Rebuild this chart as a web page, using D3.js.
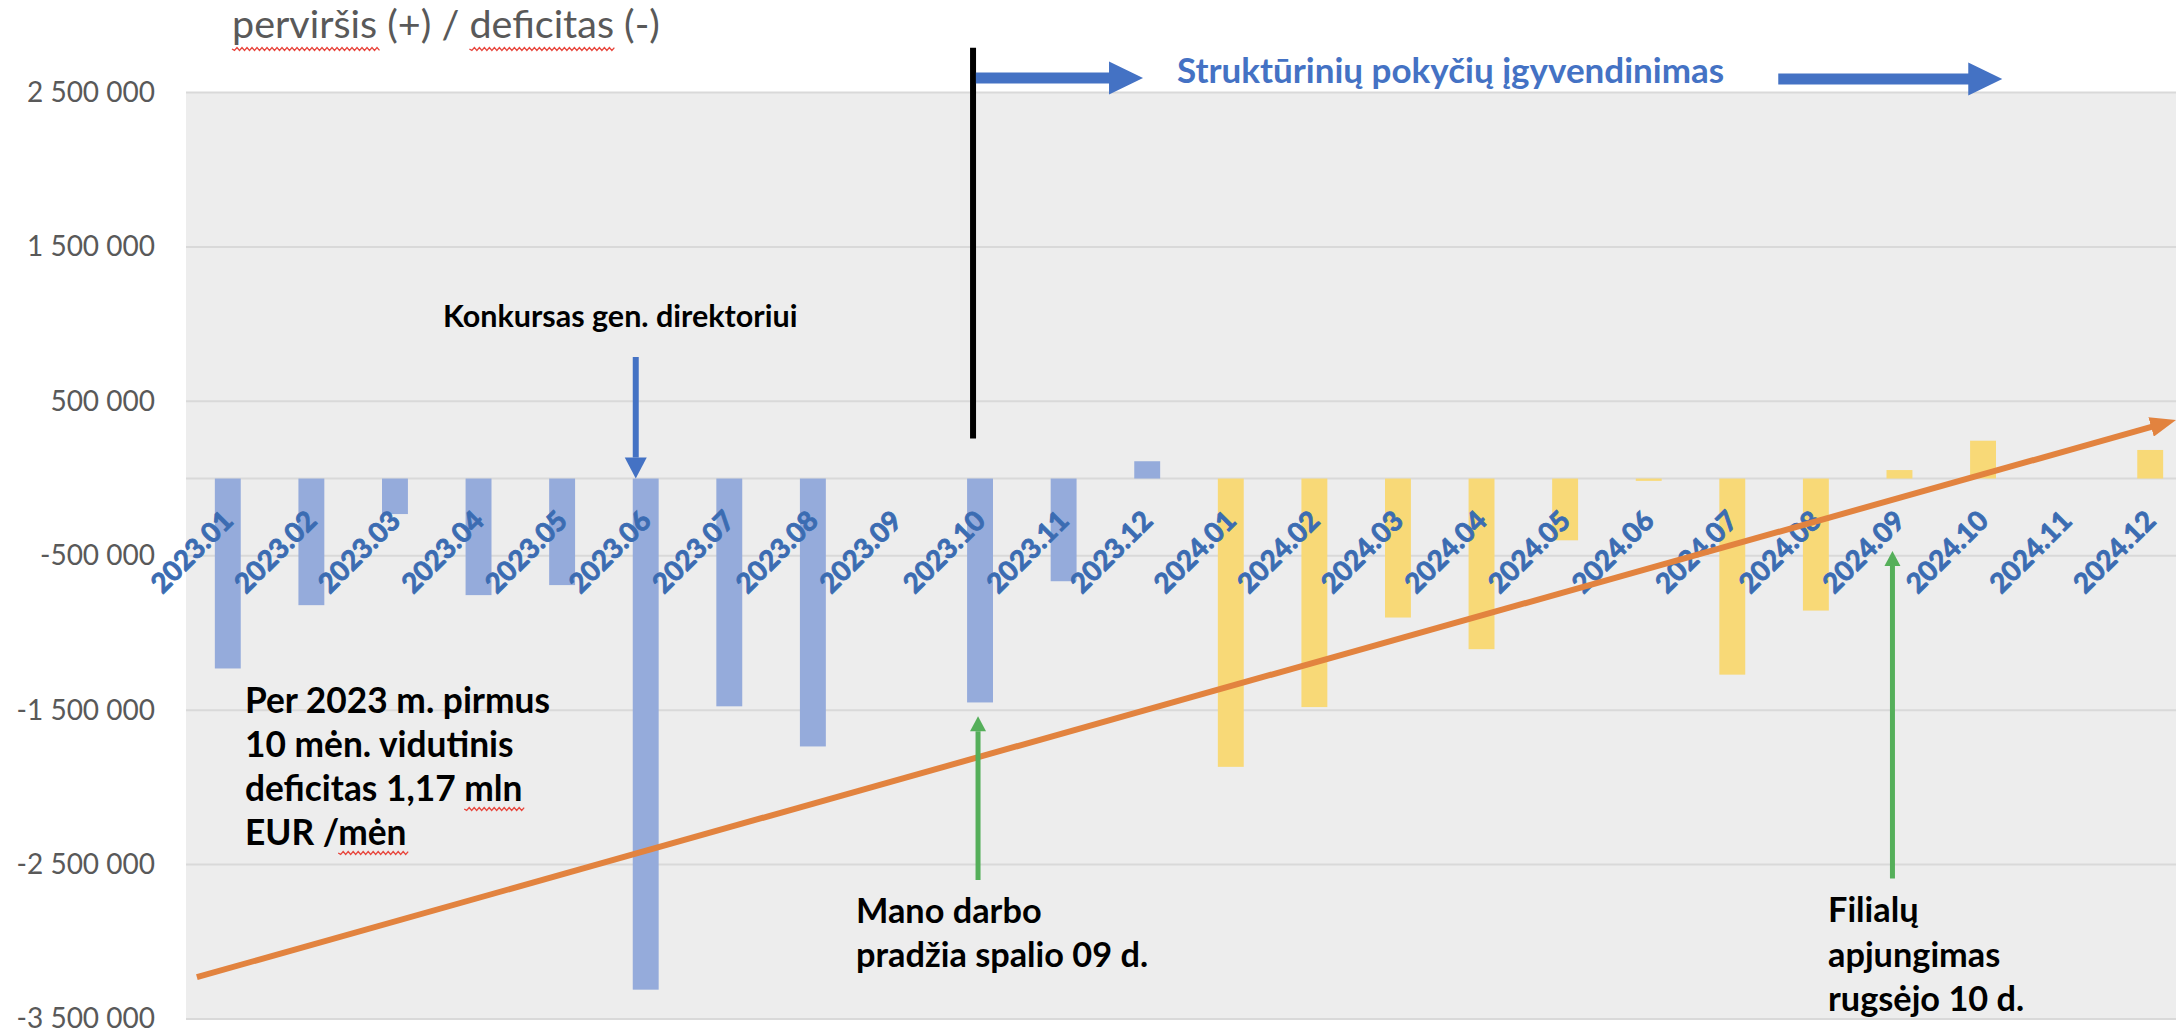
<!DOCTYPE html>
<html>
<head>
<meta charset="utf-8">
<script src="https://cdn.jsdelivr.net/npm/d3@7"></script>
<style>
  body { margin: 0; background: #fff; }
  svg { display: block; }
</style>
</head>
<body>
<div id="chart"></div>
<script>

// monthly surplus (+) / deficit (-), EUR
var categories = ["2023.01", "2023.02", "2023.03", "2023.04", "2023.05", "2023.06",
  "2023.07", "2023.08", "2023.09", "2023.10", "2023.11", "2023.12",
  "2024.01", "2024.02", "2024.03", "2024.04", "2024.05", "2024.06",
  "2024.07", "2024.08", "2024.09", "2024.10", "2024.11", "2024.12"];

var values2023 = [-1230000, -820000, -230000, -755000, -690000, -3310000,
  -1475000, -1735000, 0, -1450000, -665000, 112000];

var values2024 = [-1867000, -1480000, -900000, -1105000, -400000, -15000,
  -1270000, -855000, 55000, 245000, 0, 185000];

var yTicks = [2500000, 1500000, 500000, -500000, -1500000, -2500000, -3500000];

// trend arrow ends: [category index, value]
var trendEnds = [[-0.37, -3229000], [23.32, 381000]];

var svgWidth = 2176;
var svgHeight = 1033;

var plot = { left: 186, right: 2192, top: 92.5, bottom: 1019 };

var svg = d3
  .select("#chart")
  .append("svg")
  .attr("width", svgWidth)
  .attr("height", svgHeight)
  .style("font-family", "Lato, 'Open Sans', sans-serif");

var x = d3
  .scaleBand()
  .domain(categories)
  .range([plot.left, plot.right])
  .paddingInner(0.69)
  .paddingOuter(0.345);

var y = d3.scaleLinear().domain([-3500000, 2500000]).range([plot.bottom, plot.top]);

// centre of a (fractional) category position
function xPos(i) {
  return x.range()[0] + x.step() * (i + 0.5);
}

var fmt = d3
  .formatLocale({ decimal: ",", thousands: " ", grouping: [3], currency: ["", ""], minus: "-" })
  .format(",d");

svg
  .append("rect")
  .attr("x", plot.left)
  .attr("y", plot.top)
  .attr("width", svgWidth - plot.left)
  .attr("height", plot.bottom - plot.top)
  .attr("fill", "#ededed");

svg
  .append("g")
  .attr("class", "grid")
  .selectAll("line")
  .data(yTicks.concat([0]))
  .join("line")
  .attr("x1", plot.left)
  .attr("x2", svgWidth)
  .attr("y1", (d) => y(d))
  .attr("y2", (d) => y(d))
  .attr("stroke", "#d9d9d9")
  .attr("stroke-width", 2);

var yAxis = svg
  .append("g")
  .attr("class", "y-axis")
  .attr("transform", `translate(${plot.left}, 0)`)
  .call(d3.axisLeft(y).tickValues(yTicks).tickFormat(fmt).tickSize(0).tickPadding(31));

yAxis.select(".domain").remove();
yAxis
  .selectAll("text")
  .style("font-family", "Lato, sans-serif")
  .style("font-size", "28px")
  .attr("fill", "#595959");

var bars = categories.map((c, i) => ({
  cat: c,
  value: i < 12 ? values2023[i] : values2024[i - 12],
  year: c.slice(0, 4),
}));

var color = d3.scaleOrdinal().domain(["2023", "2024"]).range(["#95abdb", "#f8d977"]);

svg
  .append("g")
  .attr("class", "bars")
  .selectAll("rect")
  .data(bars)
  .join("rect")
  .attr("x", (d) => x(d.cat))
  .attr("y", (d) => y(Math.max(0, d.value)))
  .attr("width", x.bandwidth())
  .attr("height", (d) => Math.abs(y(d.value) - y(0)))
  .attr("fill", (d) => color(d.year));

// category labels sit next to the zero line, rotated
svg
  .append("g")
  .attr("class", "x-labels")
  .selectAll("text")
  .data(categories)
  .join("text")
  .attr("transform", (d) => `translate(${x(d) + x.bandwidth() / 2 + 7}, ${y(0) + 44}) rotate(-45)`)
  .attr("text-anchor", "end")
  .style("font-size", "27.5px")
  .style("font-weight", "bold")
  .attr("fill", "#3b6cb2")
  .attr("stroke", "#3b6cb2")
  .attr("stroke-width", 0.9)
  .text((d) => d);

// trend arrow
var defs = svg.append("defs");
defs
  .append("marker")
  .attr("id", "orangeHead")
  .attr("markerUnits", "userSpaceOnUse")
  .attr("viewBox", "0 0 26 20")
  .attr("refX", 4)
  .attr("refY", 10)
  .attr("markerWidth", 26)
  .attr("markerHeight", 20)
  .attr("orient", "auto")
  .append("path")
  .attr("d", "M0,0 L26,10 L0,20 Z")
  .attr("fill", "#e2833f");

svg
  .append("line")
  .attr("x1", xPos(trendEnds[0][0]))
  .attr("y1", y(trendEnds[0][1]))
  .attr("x2", xPos(trendEnds[1][0]) - 22)
  .attr("y2", y(trendEnds[1][1]) + 22 * (y(trendEnds[0][1]) - y(trendEnds[1][1])) / (xPos(trendEnds[1][0]) - xPos(trendEnds[0][0])))
  .attr("stroke", "#e2833f")
  .attr("stroke-width", 6)
  .attr("marker-end", "url(#orangeHead)");

// simple vertical arrows
function vArrow(cx, yFrom, yTo, col, w, headW, headL) {
  var dir = yTo > yFrom ? 1 : -1;
  svg
    .append("line")
    .attr("x1", cx)
    .attr("x2", cx)
    .attr("y1", yFrom)
    .attr("y2", yTo - dir * headL)
    .attr("stroke", col)
    .attr("stroke-width", w);
  svg
    .append("path")
    .attr("d", `M${cx - headW / 2},${yTo - dir * headL} L${cx + headW / 2},${yTo - dir * headL} L${cx},${yTo} Z`)
    .attr("fill", col);
}

vArrow(x("2023.06") + 3, y(787000), y(0), "#4472c4", 6, 22, 21);
vArrow(xPos(9) - 2, y(-2600000), y(-1540000), "#55af5a", 5, 16, 15);
vArrow(xPos(20) - 7, y(-2590000), y(-470000), "#55af5a", 5, 16, 15);

// black divider at the start of Oct 2023
svg
  .append("line")
  .attr("x1", xPos(9) - 7)
  .attr("x2", xPos(9) - 7)
  .attr("y1", y(2790000))
  .attr("y2", y(260000))
  .attr("stroke", "#000")
  .attr("stroke-width", 6);

// block arrows at top
function blockArrow(x0, x1, cy) {
  var sh = 5.5, hh = 16.5, hl = 34;
  var p = [[x0, cy - sh], [x1 - hl, cy - sh], [x1 - hl, cy - hh], [x1, cy],
    [x1 - hl, cy + hh], [x1 - hl, cy + sh], [x0, cy + sh]];
  svg
    .append("path")
    .attr("d", "M" + p.join("L") + "Z")
    .attr("fill", "#4472c4");
}
blockArrow(xPos(8.95), xPos(10.95), 78);
blockArrow(xPos(18.55), xPos(21.23), 79);

svg
  .append("text")
  .attr("x", 1177)
  .attr("y", 83)
  .style("font-size", "35px")
  .style("font-weight", "bold")
  .attr("fill", "#4472c4")
  .text("Struktūrinių pokyčių įgyvendinimas");

var title = svg
  .append("text")
  .attr("x", 232)
  .attr("y", 38)
  .style("font-size", "39.5px")
  .attr("fill", "#595959")
  .text("perviršis (+) / deficitas (-)");

svg
  .append("text")
  .attr("x", 443)
  .attr("y", 327)
  .style("font-size", "30.5px")
  .style("font-weight", "bold")
  .attr("fill", "#000")
  .text("Konkursas gen. direktoriui");

function block(lines, x0, y0, size, lh) {
  var t = svg
    .append("text")
    .style("font-size", size + "px")
    .style("font-weight", "bold")
    .attr("fill", "#000");
  t.selectAll("tspan")
    .data(lines)
    .join("tspan")
    .attr("x", x0)
    .attr("y", (d, i) => y0 + i * lh)
    .text((d) => d);
  return t;
}

var avgNote = block(["Per 2023 m. pirmus", "10 mėn. vidutinis", "deficitas 1,17 mln", "EUR /mėn"], 245, 713, 35.3, 44);
block(["Mano darbo", "pradžia spalio 09 d."], 856, 923, 34.3, 44);
block(["Filialų", "apjungimas", "rugsėjo 10 d."], 1828, 922, 34.3, 44.5);

// red spell-check squiggles
function squiggle(textSel, idx, len, off) {
  var node = textSel.node();
  var s = node.getStartPositionOfChar(idx);
  var e = node.getEndPositionOfChar(idx + len - 1);
  var yy = s.y + off;
  var d = "M" + s.x + "," + yy;
  var k = 0;
  for (var xx = s.x; xx < e.x; xx += 2.5) {
    k++;
    d += "L" + (xx + 2.5) + "," + (yy + (k % 2 ? 1.4 : -1.4));
  }
  svg
    .append("path")
    .attr("d", d)
    .attr("fill", "none")
    .attr("stroke", "#e8453c")
    .attr("stroke-width", 1.3);
}

var tt = title.node().textContent;
squiggle(title, tt.indexOf("perviršis"), 9, 11);
squiggle(title, tt.indexOf("deficitas"), 9, 11);
var at = avgNote.node().textContent;
squiggle(avgNote, at.indexOf("mln"), 3, 8);
squiggle(avgNote, at.lastIndexOf("mėn"), 3, 8);

</script>
</body>
</html>
